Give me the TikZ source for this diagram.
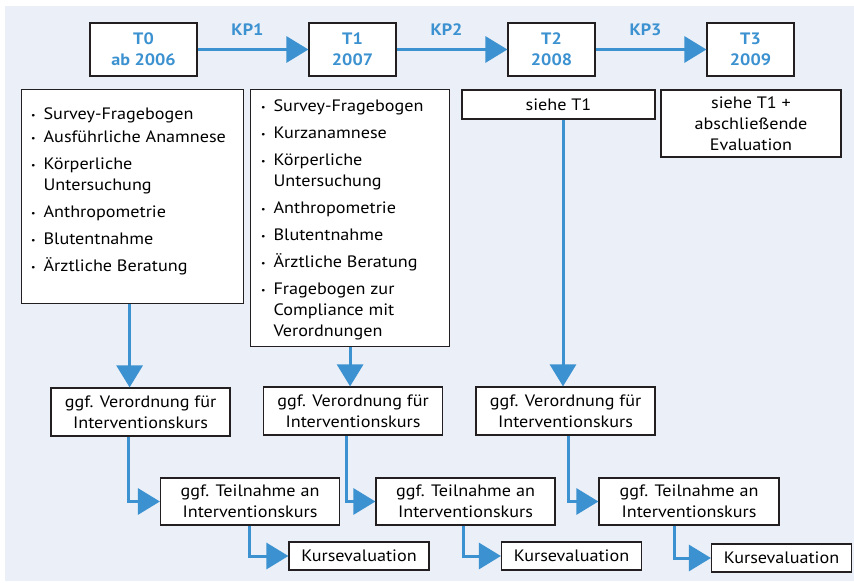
\documentclass[tikz,border=0pt]{standalone}
\usepackage{fontspec}
\setmainfont{PT Sans}[FakeStretch=1.1]
\usepackage{enumitem}
\usetikzlibrary{arrows.meta}

\definecolor{blau}{RGB}{60,146,208}
\definecolor{hinter}{RGB}{234,239,248}
\definecolor{rahmen}{RGB}{35,31,32}
\newcommand{\schrift}{\fontsize{16.5}{21}\selectfont}
\newcommand{\punkt}{\raisebox{1pt}{\small\textbullet}}

\begin{document}
\begin{tikzpicture}[x=1pt,y=-1pt,
  every node/.append style={font=\schrift},
  kasten/.style={draw=rahmen, fill=white, line width=1.2pt, inner sep=0pt, align=center},
  liste/.style={draw=rahmen, fill=white, line width=1.2pt, inner sep=0pt, anchor=north west},
  zeit/.style={kasten, minimum width=87pt, minimum height=53pt, text=blau, font=\schrift\bfseries},
  feld/.style={kasten, minimum width=179pt, minimum height=48pt},
  kurs/.style={kasten, minimum width=140pt, minimum height=28pt},
  pfeil/.style={draw=blau, line width=3pt, -{Triangle[length=22pt,width=26pt]}},
  kp/.style={text=blau, font=\schrift\bfseries, inner sep=0pt, above=12pt, pos=0.45}]
\useasboundingbox (0,0) rectangle (854,583);
\fill[hinter] (5,6) rectangle (854,581);

% Zeitpunkte
\node[zeit, minimum width=107pt] (t0) at (143.5,49.5) {T0\\ab 2006};
\node[zeit] (t1) at (352.5,49.5) {T1\\2007};
\node[zeit] (t2) at (551.5,49.5) {T2\\2008};
\node[zeit] (t3) at (750.5,49.5) {T3\\2009};
\draw[pfeil] (t0) -- node[kp] (kp1) {KP1} (t1);
\draw[pfeil] (t1) -- node[kp] (kp2) {KP2} (t2);
\draw[pfeil] (t2) -- node[kp] (kp3) {KP3} (t3);

% Untersuchungen
\node[liste] (l0) at (21,89) {\begin{minipage}[t][214pt][t]{222pt}\vspace*{18pt}
\begin{itemize}[label=\punkt, leftmargin=22pt, labelsep=8pt, itemsep=6pt, parsep=0pt, topsep=0pt]
\item Survey-Fragebogen\vspace{-4pt}
\item Ausführliche Anamnese
\item Körperliche\\Untersuchung
\item Anthropometrie
\item Blutentnahme
\item Ärztliche Beratung
\end{itemize}\end{minipage}};
\node[liste] (l1) at (250,89) {\begin{minipage}[t][257pt][t]{199pt}\vspace*{10pt}
\begin{itemize}[label=\punkt, leftmargin=23pt, labelsep=8pt, itemsep=6pt, parsep=0pt, topsep=0pt]
\item Survey-Fragebogen
\item Kurzanamnese
\item Körperliche\\Untersuchung
\item Anthropometrie
\item Blutentnahme
\item Ärztliche Beratung
\item Fragebogen zur\\Compliance mit\\Verordnungen
\end{itemize}\end{minipage}};
\node[kasten, minimum width=193pt, minimum height=29pt] (s2) at (558.5,104.5) {siehe T1};
\node[kasten, minimum width=180pt, minimum height=67pt] (s3) at (751,123.5) {siehe T1 +\\abschließende\\Evaluation};

% Verordnung
\node[feld] (v0) at (140.5,412) {ggf. Verordnung für\\Interventionskurs};
\node[feld] (v1) at (353,411) {ggf. Verordnung für\\Interventionskurs};
\node[feld] (v2) at (565.5,411) {ggf. Verordnung für\\Interventionskurs};
\draw[pfeil] ([xshift=-3pt]l0.south) -- ([xshift=-3pt]l0.south |- v0.north);
\draw[pfeil] (l1.south) -- (l1.south |- v1.north);
\draw[pfeil] ([xshift=4.5pt]s2.south) -- ([xshift=4.5pt]s2.south |- v2.north);

% Teilnahme
\node[feld, minimum height=47pt] (tn0) at (250,501.5) {ggf. Teilnahme an\\Interventionskurs};
\node[feld, minimum height=47pt] (tn1) at (465.5,501.5) {ggf. Teilnahme an\\Interventionskurs};
\node[feld, minimum width=180pt, minimum height=47pt] (tn2) at (689,501.5) {ggf. Teilnahme an\\Interventionskurs};
\draw[pfeil] ([xshift=-12.5pt]v0.south) |- (tn0.west);
\draw[pfeil] ([xshift=-7pt]v1.south) |- (tn1.west);
\draw[pfeil] ([xshift=2.5pt]v2.south) |- (tn2.west);

% Kursevaluation
\node[kurs] (k0) at (359,556) {Kursevaluation};
\node[kurs] (k1) at (571.5,556) {Kursevaluation};
\node[kurs] (k2) at (781.5,558) {Kursevaluation};
\draw[pfeil] ([xshift=-1pt]tn0.south) |- (k0.west);
\draw[pfeil] ([xshift=-2.5pt]tn1.south) |- (k1.west);
\draw[pfeil] ([xshift=-15pt]tn2.south) |- (k2.west);
\end{tikzpicture}
\end{document}
